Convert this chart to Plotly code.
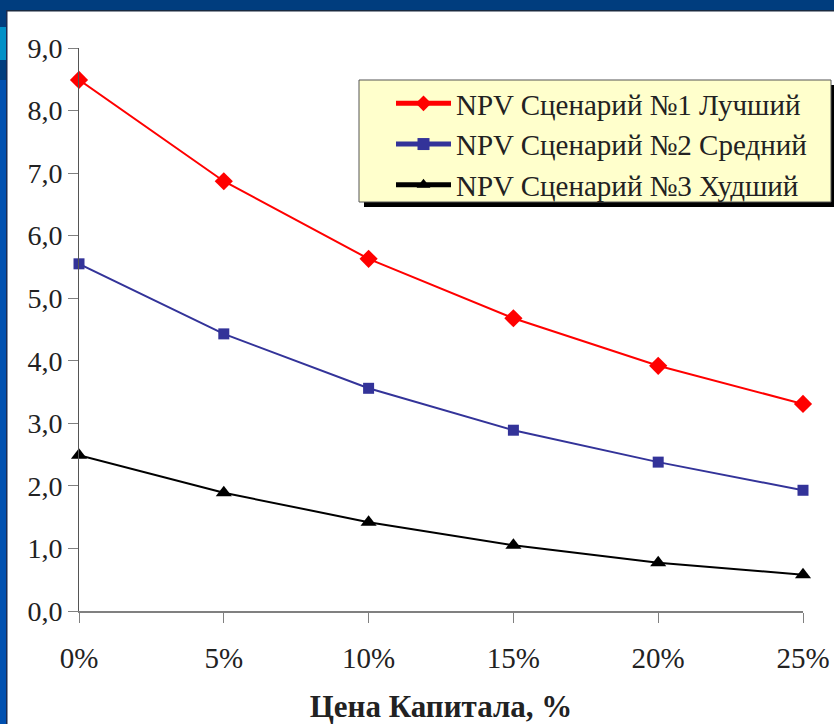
import plotly.graph_objects as go

x_vals = [0, 5, 10, 15, 20, 25]
x_labels = ["0%", "5%", "10%", "15%", "20%", "25%"]
npv_best = [8.49, 6.87, 5.63, 4.68, 3.92, 3.31]
npv_mid = [5.55, 4.43, 3.56, 2.89, 2.38, 1.93]
npv_worst = [2.49, 1.89, 1.42, 1.05, 0.77, 0.58]
names = ["NPV Сценарий №1 Лучший", "NPV Сценарий №2 Средний", "NPV Сценарий №3 Худший"]
y_ticks = [0, 1, 2, 3, 4, 5, 6, 7, 8, 9]
y_labels = ["0,0", "1,0", "2,0", "3,0", "4,0", "5,0", "6,0", "7,0", "8,0", "9,0"]

FONT = "Times New Roman, Liberation Serif, serif"

fig = go.Figure()
fig.add_trace(go.Scatter(x=x_vals, y=npv_best, name=names[0], mode="lines+markers",
                         line=dict(color="#ff0000", width=2),
                         marker=dict(symbol="diamond", size=14, color="#ff0000"),
                         cliponaxis=False))
fig.add_trace(go.Scatter(x=x_vals, y=npv_mid, name=names[1], mode="lines+markers",
                         line=dict(color="#333399", width=2),
                         marker=dict(symbol="square", size=11, color="#333399"),
                         cliponaxis=False))
fig.add_trace(go.Scatter(x=x_vals, y=npv_worst, name=names[2], mode="lines+markers",
                         line=dict(color="#000000", width=2),
                         marker=dict(symbol="triangle-up", size=14, color="#000000"),
                         cliponaxis=False))

L, T, B = 79, 48, 113
W, H = 834, 724
PW = 803 - 79
PH = 611 - 48


def px(x):
    return (x - L) / PW


def py(y):
    return (611 - y) / PH


shapes = [
    # top dark band
    dict(type="rect", xref="paper", yref="paper", x0=px(-5), x1=px(840), y0=py(-5), y1=py(10),
         fillcolor="#003d7e", line=dict(width=0), layer="above"),
    dict(type="rect", xref="paper", yref="paper", x0=px(7), x1=px(840), y0=py(10), y1=py(11.5),
         fillcolor="#1a2a40", line=dict(width=0), layer="above"),
    # left band
    dict(type="rect", xref="paper", yref="paper", x0=px(-5), x1=px(6), y0=py(730), y1=py(10),
         fillcolor="#0050b0", line=dict(width=0), layer="above"),
    dict(type="rect", xref="paper", yref="paper", x0=px(-5), x1=px(6), y0=py(80), y1=py(10),
         fillcolor="#003d7e", line=dict(width=0), layer="above"),
    dict(type="rect", xref="paper", yref="paper", x0=px(-5), x1=px(6), y0=py(60), y1=py(27),
         fillcolor="#0090c8", line=dict(width=0), layer="above"),
    dict(type="rect", xref="paper", yref="paper", x0=px(6), x1=px(7.5), y0=py(730), y1=py(10),
         fillcolor="#1a2a50", line=dict(width=0), layer="above"),
    # legend shadow and box
    dict(type="rect", xref="paper", yref="paper", x0=px(364), x1=px(836), y0=py(207), y1=py(85),
         fillcolor="#000000", line=dict(width=0), layer="below"),
    dict(type="rect", xref="paper", yref="paper", x0=px(359), x1=px(831), y0=py(202), y1=py(80),
         fillcolor="#ffffcc", line=dict(width=1, color="#555555"), layer="below"),
]

fig.update_layout(
    width=W, height=H,
    margin=dict(l=L, r=W - 803, t=T, b=B, autoexpand=False),
    paper_bgcolor="white", plot_bgcolor="rgba(0,0,0,0)",
    font=dict(family=FONT, size=28, color="#222222"),
    showlegend=True,
    legend=dict(x=px(391), y=py(78), xanchor="left", yanchor="top",
                bgcolor="rgba(0,0,0,0)", borderwidth=0,
                font=dict(family=FONT, size=29, color="#222222"),
                itemwidth=55, tracegroupgap=0, itemsizing="constant"),
    xaxis=dict(range=[0, 25], tickvals=x_vals, ticktext=x_labels, automargin=False,
               showgrid=False, zeroline=False, showline=True, linecolor="#808080", linewidth=2,
               ticks="outside", ticklen=10, tickcolor="#808080", tickwidth=1,
               ticklabelstandoff=10,
               tickfont=dict(family=FONT, size=29, color="#222222"),
               title=dict(text="<b>Цена Капитала, %</b>", standoff=24,
                          font=dict(family=FONT, size=31, color="#222222"))),
    yaxis=dict(range=[0, 9], tickvals=y_ticks, ticktext=y_labels, automargin=False,
               showgrid=False, zeroline=False, showline=True, linecolor="#555555", linewidth=1,
               ticks="outside", ticklen=10, tickcolor="#808080", tickwidth=1,
               tickfont=dict(family=FONT, size=28, color="#222222")),
    shapes=shapes,
)

fig.write_html("out.html", config={"displayModeBar": False},
               post_script="document.body.style.margin='0';document.body.style.overflow='hidden';")
